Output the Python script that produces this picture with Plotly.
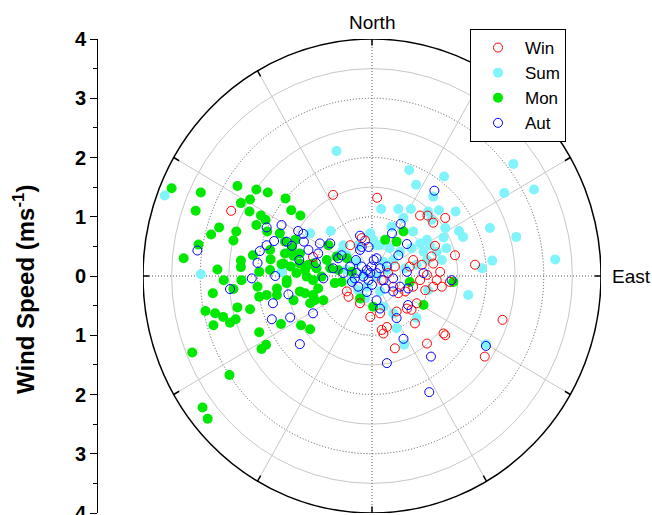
import numpy as np
import plotly.graph_objects as go

# ---------------- data: wind vector components (m/s) ----------------
# east component (+ = towards East), north component (+ = towards North)
win_east = [-0.68, 0.09, 0.84, 0.97, 1.28, 1.07, -0.18, -0.12, -0.38, 1.10, -2.46, 1.04, 0.72, 0.87, 1.07,
            0.66, 1.45, 1.80, 1.19, 0.96, 1.13, 0.84, 1.36, 1.22, 1.07, 0.72, 0.93, 0.58, 0.46, 0.37,
            0.28, 0.40, 0.17, -0.41, -0.21, -0.03, 0.14, 0.43, 0.69, 0.75, 0.26, 0.17, 0.20, 0.40, 0.96,
            1.25, 1.28, 0.78, 0.61, -0.44, 1.97, 2.28, -1.03]
win_north = [1.37, 1.32, 1.02, 1.02, 0.98, 0.90, 0.64, 0.60, 0.52, 0.51, 1.10, 0.33, 0.27, 0.19, 0.21,
             0.16, 0.35, 0.19, 0.07, 0.02, -0.07, -0.07, -0.10, -0.18, -0.18, -0.18, -0.24, -0.26, -0.29, -0.18,
             0.05, 0.16, -0.07, -0.35, -0.46, -0.69, -0.63, -0.60, -0.57, -0.80, -0.86, -0.91, -0.97, -1.22, -1.14,
             -0.97, -1.00, -0.46, -0.55, -0.26, -1.36, -0.74, 0.32]

sum_east = [-0.62, 0.65, 1.26, 0.77, 2.47, 2.31, 2.83, 1.07, 0.16, 0.46, 0.68, 0.55, 1.17, 1.46, 1.04,
            1.28, 1.52, 1.59, 2.06, 2.52, 1.25, -0.72, -0.03, 0.34, 0.72, 0.96, 0.84, -0.50, 0.08, 2.10,
            1.92, 3.20, 1.99, 0.98, -0.53, -0.44, -0.24, 0.02, 0.14, 0.31, 0.49, 0.69, 0.90, 1.01,
            1.13, 1.30, 1.22, 0.96, 0.78, 0.58, 0.37, 0.20, 0.26, 0.08, -0.09, 0.14, -0.12, 0.20, 0.37,
            0.78, 0.98, 1.68, 0.43, -0.27, -0.44, -0.15, -0.35, -0.24, -3.62, -2.99, -1.08, -1.58, 0.56]
sum_north = [2.11, 1.79, 1.68, 1.54, 1.89, 1.40, 1.46, 1.34, 1.13, 1.13, 1.13, 0.98, 1.11, 1.09, 0.95,
             0.81, 0.76, 0.66, 0.81, 0.66, 0.65, 0.76, 0.72, 0.83, 0.75, 0.61, 0.55, 0.52, 0.52, 0.26,
             0.13, 0.28, -1.15, 1.09, 0.41, 0.35, 0.52, 0.61, 0.52, 0.47, 0.41, 0.47, 0.41, 0.52,
             0.41, 0.47, 0.27, 0.27, 0.19, 0.13, 0.27, 0.24, 0.10, -0.01, -0.18, -0.26, -0.38, -0.52, -0.63,
             -0.71, -0.24, -0.32, -0.88, 0.24, 0.10, 0.02, -0.07, -0.24, 1.36, 0.03, 0.72, 0.07, -1.16]

mon_east = [-3.50, -2.99, -2.35, -2.02, -1.82, -3.08, -2.29, -2.13, -1.51, -2.14, -1.94, -1.41, -1.25, -2.67, -2.81,
            -2.37, -2.02, -1.86, -2.42, -3.03, -3.29, -2.29, -2.29, -2.08, -1.78, -1.77, -1.97, -1.78, -1.58, -1.42,
            -2.70, -2.59, -2.78, -2.42, -2.28, -2.00, -1.97, -1.84, -1.66, -1.66, -1.49, -1.32, -1.17, -1.17, -1.03,
            -1.03, -2.35, -2.91, -2.74, -2.60, -2.38, -2.48, -2.77, -2.13, -1.97, -1.85, -1.93, -1.59, -1.24, -1.08,
            -1.00, -3.14, -1.52, -1.37, -1.34, -1.61, -1.83, -1.26, -1.14, -1.37, -2.49, -2.96, -2.87,
            -1.52, -1.26, -1.11, -0.97, -0.79, -0.73, -0.59, -0.44, -0.35, -0.62, -0.88, -0.65, -0.53, -0.94, -1.03,
            -0.85, -1.26, -1.49, -1.08, -1.40, -1.55, 0.02, -0.21, 0.23, 0.43, 0.55, 0.90, 0.66, 1.42, -0.76]
mon_north = [1.48, 1.41, 1.52, 1.46, 1.41, 1.10, 1.23, 1.29, 1.31, 1.09, 1.02, 1.11, 1.02, 0.82, 0.70,
             0.75, 0.86, 0.95, 0.60, 0.53, 0.30, 0.26, 0.15, 0.35, 0.44, 0.28, 0.07, 0.10, 0.20, 0.16,
             0.11, -0.07, -0.29, -0.22, -0.07, -0.18, -0.35, -0.32, -0.21, -0.32, -0.12, 0.05, 0.10, -0.29, 0.21,
             -0.07, -0.53, -0.59, -0.63, -0.69, -0.73, -0.79, -0.83, -0.56, -0.95, -1.16, -1.23, -0.81, -0.83, -0.90,
             -0.41, -1.29, 0.38, 0.34, 0.61, 0.72, 0.75, 0.38, -0.01, -0.41, -1.67, -2.22, -2.41,
             0.58, 0.21, 0.19, 0.13, 0.27, 0.13, 0.10, 0.30, 0.07, 0.33, -0.01, -0.12, -0.10, -0.21, -0.32,
             -0.41, -0.26, -0.07, -0.46, 0.47, 0.21, -0.52, -0.38, 0.61, 0.58, 0.75, -0.49, -0.10, -0.10, 0.52]

aut_east = [-3.05, -2.48, -2.10, -1.69, -2.00, -1.96, -1.84, -1.84, -1.71, -1.58, -1.49, -1.40, -1.29, -1.20, -1.19,
            -1.11, -1.27, -0.98, -1.46, -1.73, -1.75, -1.43, -1.03, -1.26, 0.55, 0.26, 1.03, 1.00, 1.99, 1.09,
            0.50, 0.35, -0.21, 0.61, -0.91, -0.73,
            -0.94, -0.53, -0.59, -0.18, -0.06, -0.21, 0.08, 0.26, 0.46, 0.61, 0.37, 0.49, 0.63, 0.37, 0.63,
            0.43, 0.14, 0.08, -0.24, -0.35, -0.15, -0.03, 0.08, -0.09, -0.27, -0.18, -0.01, 0.14, 0.20, 0.23,
            -0.06, -0.30, -0.85, -0.68, -0.50, -0.38, 1.39, 0.90, 0.00, -0.09, 0.03, -0.28]
aut_north = [0.43, -0.22, -0.04, 0.00, 0.22, 0.42, 0.52, 0.82, 0.59, 0.86, 0.58, 0.51, 0.76, 0.71, 0.58,
             0.44, 0.27, 0.22, -0.31, -0.46, -0.73, -0.70, -0.63, -1.15, -1.06, -1.47, -1.36, -1.96, -1.18, 1.44,
             0.88, 0.72, 0.68, 0.54, 0.55, 0.55,
             0.38, 0.35, 0.30, 0.49, 0.49, 0.44, 0.30, 0.16, 0.35, 0.07, -0.04, -0.18, -0.21, -0.26, -0.49,
             -0.71, -0.55, -0.41, -0.18, -0.10, -0.01, 0.05, 0.05, 0.10, 0.05, 0.16, 0.16, 0.13, -0.07, -0.21,
             -0.07, -0.04, -0.04, 0.13, 0.05, 0.16, -0.07, 0.05, -0.15, -0.27, 0.27, 0.27]

speed_ticks = [-4, -3, -2, -1, 0, 1, 2, 3, 4]
speed_labels = ["4", "3", "2", "1", "0", "1", "2", "3", "4"]
ring_radii = [0.5, 1.0, 1.5, 2.0, 2.5, 3.0, 3.5]
spoke_angles = list(range(0, 360, 30))
r_max = 4.0

# ---------------- figure ----------------
W, H = 652, 515
FONT = "Arial, Liberation Sans, Helvetica, sans-serif"
DOT = dict(color="#555555", width=1, dash="1px,2px")
SOLID = dict(color="#C8C8C8", width=1)

fig = go.Figure()

series = [
    ("Sum", sum_east, sum_north, dict(symbol="circle", size=10, color="#80F4FA"), 2),
    ("Mon", mon_east, mon_north, dict(symbol="circle", size=10, color="#00E800"), 3),
    ("Win", win_east, win_north, dict(symbol="circle-open", size=9, color="#FF0000",
                                      line=dict(width=1, color="#FF0000")), 1),
    ("Aut", aut_east, aut_north, dict(symbol="circle-open", size=9, color="#0000FF",
                                      line=dict(width=1, color="#0000FF")), 4),
]
for name, xe, yn, mk, rank in series:
    fig.add_trace(go.Scatter(x=xe, y=yn, mode="markers", name=name, marker=mk,
                             legendrank=rank, cliponaxis=False))

shapes = []
# rings
for r in ring_radii:
    ln = DOT if abs(r - round(r)) < 1e-9 else SOLID
    shapes.append(dict(type="circle", xref="x", yref="y", x0=-r, x1=r, y0=-r, y1=r,
                       line=ln, layer="below"))
# spokes
for a in spoke_angles:
    t = np.deg2rad(a)
    ln = DOT if a % 90 == 0 else SOLID
    shapes.append(dict(type="line", xref="x", yref="y", x0=0, y0=0,
                       x1=r_max * np.sin(t), y1=r_max * np.cos(t), line=ln, layer="below"))
# outer circle
shapes.append(dict(type="circle", xref="x", yref="y", x0=-r_max, x1=r_max, y0=-r_max, y1=r_max,
                   line=dict(color="black", width=1.5), layer="below"))
# tick marks on outer circle
for a in spoke_angles:
    t = np.deg2rad(a)
    shapes.append(dict(type="line", xref="x", yref="y",
                       x0=r_max * np.sin(t), y0=r_max * np.cos(t),
                       x1=(r_max - 0.11) * np.sin(t), y1=(r_max - 0.11) * np.cos(t),
                       line=dict(color="black", width=1.5), layer="below"))

annotations = [
    dict(text="North", x=0, y=r_max, xref="x", yref="y", xanchor="center", yanchor="bottom",
         yshift=4, showarrow=False, font=dict(family=FONT, size=19, color="black")),
    dict(text="East", x=r_max, y=0, xref="x", yref="y", xanchor="left", yanchor="middle",
         xshift=9, showarrow=False, font=dict(family=FONT, size=19, color="black")),
    dict(text="<b>Wind Speed (ms<sup>-1</sup>)</b>", x=24 / W, y=1 - 290 / H, xref="paper", yref="paper",
         xanchor="center", yanchor="middle", textangle=-90, showarrow=False,
         font=dict(family=FONT, size=24, color="black")),
]

fig.update_layout(
    width=W, height=H,
    margin=dict(l=0, r=0, t=0, b=0, autoexpand=False),
    paper_bgcolor="white", plot_bgcolor="rgba(0,0,0,0)",
    font=dict(family=FONT, color="black"),
    shapes=shapes, annotations=annotations,
    xaxis=dict(domain=[143 / W, 601 / W], range=[-r_max, r_max], visible=False, automargin=False,
               showgrid=False, zeroline=False, fixedrange=True),
    yaxis=dict(domain=[2 / H, 476 / H], range=[-r_max, r_max], anchor="free", position=97 / W,
               automargin=False, ticklabeloverflow="allow",
               showgrid=False, zeroline=False, showline=True, linecolor="black", linewidth=1,
               ticks="outside", ticklen=7, tickwidth=1, tickcolor="black",
               tickmode="array", tickvals=speed_ticks, ticktext=speed_labels,
               tickfont=dict(family=FONT, size=20, color="black", weight="bold"),
               minor=dict(tickmode="array", tickvals=[v + 0.5 for v in speed_ticks[:-1]],
                          ticks="outside", ticklen=4, tickcolor="black", showgrid=False)),
    legend=dict(x=470 / W, y=1 - 29 / H, xanchor="left", yanchor="top",
                bgcolor="white", bordercolor="black", borderwidth=1,
                font=dict(family=FONT, size=17, color="black"),
                itemwidth=44, traceorder="normal"),
    showlegend=True,
)

fig.write_html("out.html", post_script="document.body.style.margin='0';document.body.style.overflow='hidden';")
